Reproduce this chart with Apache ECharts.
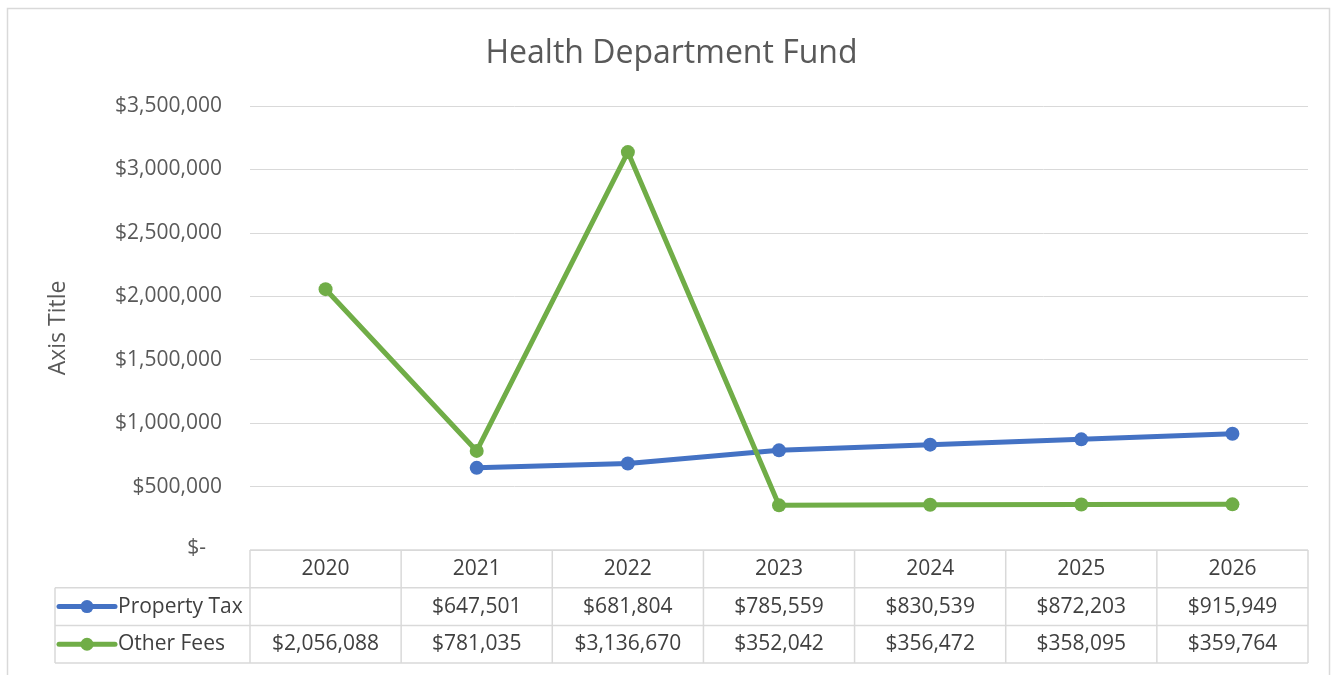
<!DOCTYPE html>
<html>
<head>
<meta charset="utf-8">
<script src="https://cdn.jsdelivr.net/npm/echarts@6/dist/echarts.min.js"></script>
<style>
  html, body { margin: 0; padding: 0; background: #fff; }
  #chart { width: 1343px; height: 675px; }
</style>
</head>
<body>
<div id="chart"></div>
<script>
var years = ['2020', '2021', '2022', '2023', '2024', '2025', '2026']
var propertyTax = [null, 647501, 681804, 785559, 830539, 872203, 915949]
var otherFees = [2056088, 781035, 3136670, 352042, 356472, 358095, 359764]
var seriesNames = ['Property Tax', 'Other Fees']
var seriesColors = ['#4472C4', '#70AD47']

var FONT = '"Open Sans"'
var TEXT = '#595959'
var LINE = '#d9d9d9'

function money(v) {
  return '$' + Math.round(v).toLocaleString('en-US')
}

var chart = echarts.init(document.getElementById('chart'))

var option = {
  animation: false,
  backgroundColor: '#fff',
  title: {
    text: 'Health Department Fund',
    left: 'center',
    top: 33,
    textStyle: { fontFamily: FONT, fontSize: 32, fontWeight: 'normal', color: TEXT }
  },
  grid: { left: 250, right: 35, top: 106, bottom: 125 },
  xAxis: {
    type: 'category',
    data: years,
    axisLine: { show: false },
    axisTick: { show: false },
    axisLabel: { show: false }
  },
  yAxis: {
    type: 'value',
    min: 0,
    max: 3500000,
    interval: 500000,
    name: 'Axis Title',
    nameLocation: 'middle',
    nameGap: 180,
    nameRotate: 90,
    nameTextStyle: { fontFamily: FONT, fontSize: 23, color: TEXT },
    axisLine: { show: false },
    axisTick: { show: false },
    splitLine: { lineStyle: { color: LINE, width: 1 } },
    axisLabel: {
      margin: 28,
      fontFamily: FONT,
      fontSize: 21,
      color: TEXT,
      formatter: function (v) {
        return v === 0 ? '{z|$-}' : money(v)
      },
      rich: { z: { fontFamily: FONT, fontSize: 21, color: TEXT, padding: [0, 16, 4, 0] } }
    }
  },
  series: [
    {
      name: seriesNames[0],
      type: 'line',
      data: propertyTax,
      symbol: 'circle',
      symbolSize: 14,
      lineStyle: { width: 5, color: seriesColors[0] },
      itemStyle: { color: seriesColors[0] }
    },
    {
      name: seriesNames[1],
      type: 'line',
      data: otherFees,
      symbol: 'circle',
      symbolSize: 14,
      lineStyle: { width: 5, color: seriesColors[1] },
      itemStyle: { color: seriesColors[1] }
    }
  ]
}
chart.setOption(option)

// data table under the plot, laid out from the axis
function buildTable() {
  var n = years.length
  var c0 = chart.convertToPixel({ xAxisIndex: 0 }, 0)
  var c1 = chart.convertToPixel({ xAxisIndex: 0 }, 1)
  var band = c1 - c0
  var left = c0 - band / 2
  var right = left + band * n
  var top = chart.convertToPixel({ yAxisIndex: 0 }, 0)
  var rowH = 37.7
  var keyLeft = 55
  var els = []
  var rows = [propertyTax, otherFees]

  function hline(x1, x2, y) {
    els.push({ type: 'line', silent: true, shape: { x1: x1, y1: y, x2: x2, y2: y }, style: { stroke: LINE, lineWidth: 1.5 } })
  }
  function vline(x, y1, y2) {
    els.push({ type: 'line', silent: true, shape: { x1: x, y1: y1, x2: x, y2: y2 }, style: { stroke: LINE, lineWidth: 1.5 } })
  }
  function text(s, x, y, align) {
    els.push({ type: 'text', silent: true, x: x, y: y, style: { text: s, fill: '#404040', font: '21px ' + FONT, align: align, verticalAlign: 'middle' } })
  }

  hline(left, right, top)
  hline(keyLeft, right, top + rowH)
  hline(keyLeft, right, top + rowH * 2)
  hline(keyLeft, right, top + rowH * 3)
  vline(keyLeft, top + rowH, top + rowH * 3)
  for (var i = 0; i <= n; i++) vline(left + band * i, top, top + rowH * 3)

  for (var j = 0; j < n; j++) {
    var cx = left + band * (j + 0.5)
    text(years[j], cx, top + rowH * 0.5, 'center')
    for (var r = 0; r < rows.length; r++) {
      var v = rows[r][j]
      if (v != null) text(money(v), cx, top + rowH * (r + 1.5), 'center')
    }
  }
  for (var k = 0; k < seriesNames.length; k++) {
    var y = top + rowH * (k + 1.5)
    els.push({ type: 'line', silent: true, shape: { x1: 59, y1: y, x2: 115, y2: y }, style: { stroke: seriesColors[k], lineWidth: 5, lineCap: 'round' } })
    els.push({ type: 'circle', silent: true, shape: { cx: 87, cy: y, r: 6.5 }, style: { fill: seriesColors[k] } })
    text(seriesNames[k], 118, y, 'left')
  }
  // chart frame
  els.push({ type: 'rect', silent: true, shape: { x: 7.5, y: 8.5, width: 1322, height: 700 }, style: { fill: null, stroke: '#d9d9d9', lineWidth: 1.5 } })
  chart.setOption({ graphic: { elements: els } })
}
buildTable()
</script>
</body>
</html>
